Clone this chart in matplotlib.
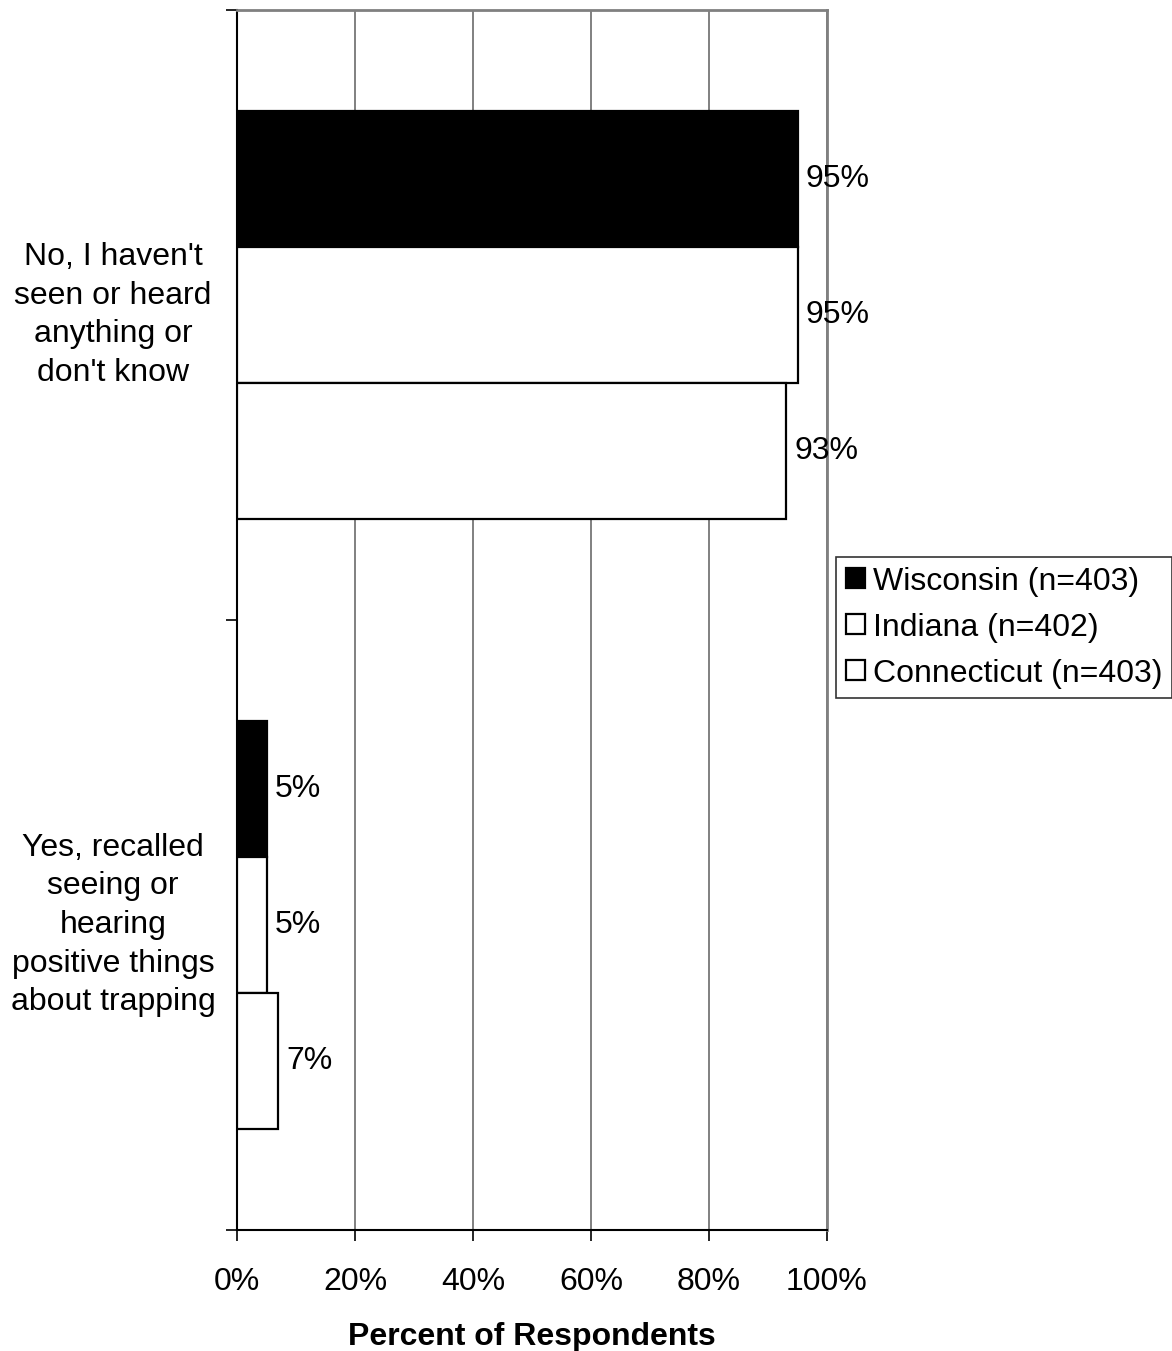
import numpy as np
import matplotlib
matplotlib.use("Agg")
import matplotlib.pyplot as plt

plt.rcParams['font.family'] = ['Liberation Sans', 'DejaVu Sans']

categories = ["No, I haven't\nseen or heard\nanything or\ndon't know",
              "Yes, recalled\nseeing or\nhearing\npositive things\nabout trapping"]
states = ["Wisconsin (n=403)", "Indiana (n=402)", "Connecticut (n=403)"]
wisconsin = [95, 5]
indiana = [95, 5]
connecticut = [93, 7]
series = [wisconsin, indiana, connecticut]
colors = ["black", "white", "white"]
xticks = [0, 20, 40, 60, 80, 100]

fig = plt.figure(figsize=(11.72, 13.51), dpi=100)
ax = fig.add_axes([237 / 1172, 1 - 1230 / 1351, 590 / 1172, 1220 / 1351])

centers = np.arange(len(categories)) + 0.5
h = 0.223
for i, (vals, col, name) in enumerate(zip(series, colors, states)):
    bars = ax.barh(centers + (i - 1) * h, vals, height=h, color=col,
                   edgecolor="black", linewidth=1.6, label=name, zorder=3)
    ax.bar_label(bars, labels=[f"{v}%" for v in vals], padding=6,
                 fontsize=23, zorder=5)

ax.set_ylim(2, 0)
ax.set_xlim(0, 100)
ax.set_yticks([0, 1, 2])
ax.set_yticklabels([])
for c, lab in zip(centers, categories):
    ax.text(-0.21, c, lab, transform=ax.get_yaxis_transform(), ha="center",
            va="center", multialignment="center", fontsize=23, linespacing=1.38)

ax.set_xticks(xticks)
ax.set_xticklabels([f"{t}%" for t in xticks], fontsize=23)
ax.tick_params(axis="x", length=8, width=1.2, pad=19, direction="out")
ax.tick_params(axis="y", length=8, width=1.2, direction="out")
ax.grid(axis="x", color="#808080", linewidth=1.4, zorder=0)
ax.set_xlabel("Percent of Respondents", fontsize=23, fontweight="bold", labelpad=18)

for s in ["top", "right"]:
    ax.spines[s].set_color("#808080")
    ax.spines[s].set_linewidth(2)
for s in ["left", "bottom"]:
    ax.spines[s].set_color("black")
    ax.spines[s].set_linewidth(1.5)

leg = fig.legend(loc="upper left", bbox_to_anchor=(836 / 1172, 1 - 557 / 1351),
                 fontsize=23, frameon=True, fancybox=False, shadow=False,
                 handlelength=0.6, handleheight=0.6, handletextpad=0.25,
                 labelspacing=0.5, borderpad=0.3, borderaxespad=0)
leg.get_frame().set_edgecolor("black")
leg.get_frame().set_linewidth(1.2)

fig.savefig("out.png", dpi=100, facecolor="white")
